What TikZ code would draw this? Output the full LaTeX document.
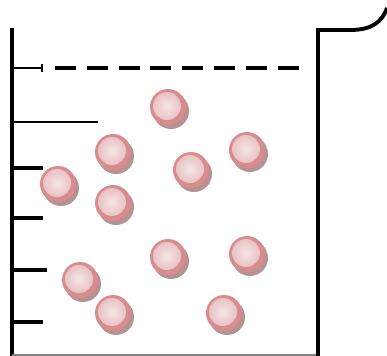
\documentclass[tikz,border=0pt]{standalone}
\usepackage{tikz}
\usetikzlibrary{calc}

\definecolor{ballring}{HTML}{D98C8E}
\definecolor{ballshadow}{HTML}{B39393}
\definecolor{ballin}{HTML}{F6E6E6}
\definecolor{ballout}{HTML}{E8C2C3}

\tikzset{
  wall/.style={line width=2.2pt},
  gradmark/.style={line width=1.8pt},
}

\begin{document}
\begin{tikzpicture}[x=0.02cm, y=-0.02cm]
\useasboundingbox (0,0) rectangle (387,356);

% Beaker
\draw[wall] (12,28) -- (12,356);
\draw[gray, line width=0.6pt] (12,355) -- (318,355);
\draw[wall, line join=miter] (318,356) -- (318,30) -- (350,30)
  .. controls (372,30) and (382,22) .. (387,8);

% Graduations
\draw[line width=1.2pt] (12,68) -- (42,68);
\draw[line width=0.8pt] (42,64) -- (42,72);
\draw[line width=1.2pt] (12,122) -- (98,122);
\foreach \y/\len in {168/43, 218/43, 270/47, 322/43} {
  \draw[gradmark] (12,\y) -- (\len,\y);
}

% Liquid level
\draw[line width=2.8pt, dash pattern=on 11.9pt off 6.2pt] (55,68) -- (303,68);

% Particles
\foreach \x/\y in {168/107, 113/152, 247/150, 191/170, 58/184, 113/203,
                   168/257, 247/254, 80/280, 113/313, 224/313} {
  \fill[ballshadow] (\x+3,\y+4) circle (18);
  \fill[ballring] (\x,\y) circle (18);
  \shade[inner color=ballin, outer color=ballout] (\x-1,\y-1) circle (14);
}
\end{tikzpicture}
\end{document}
